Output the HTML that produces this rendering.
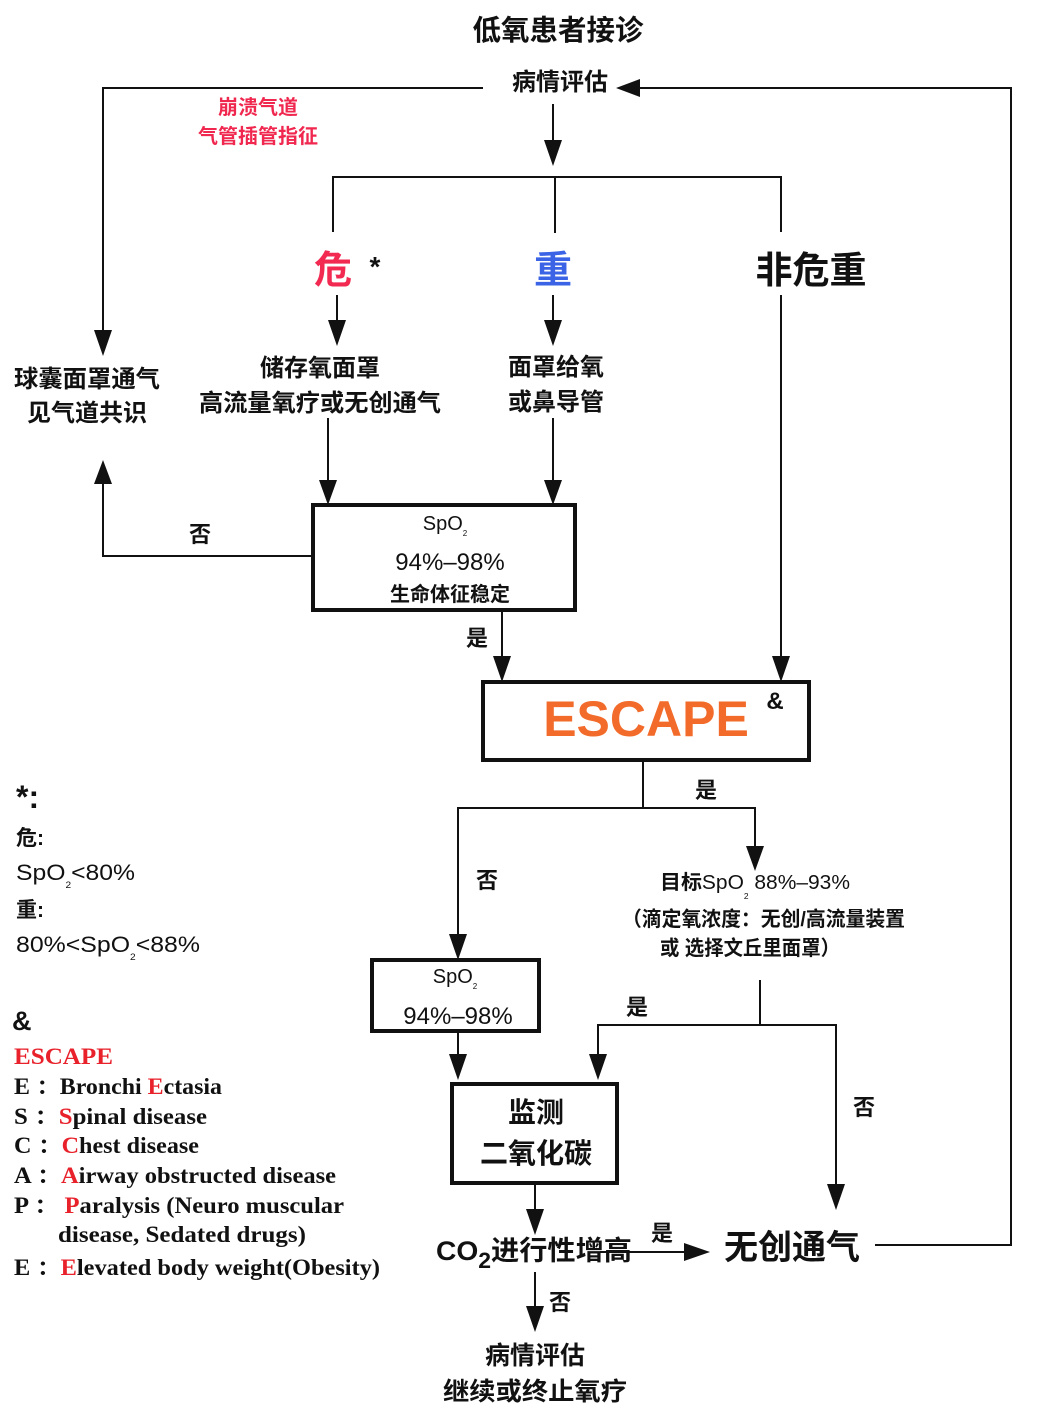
<!DOCTYPE html>
<html><head><meta charset="utf-8">
<style>
html,body{margin:0;padding:0;background:#fff;}
svg{display:block;}
.c{font-family:"Liberation Sans","Noto Sans CJK SC",sans-serif;font-weight:bold;fill:#111;}
.n{font-family:"Liberation Sans","Noto Sans CJK SC",sans-serif;font-weight:normal;fill:#111;}
.s{font-family:"Liberation Serif","Noto Serif CJK SC",serif;font-weight:bold;fill:#111;font-size:23px;}
.r{fill:#e8212b;}
</style></head>
<body>
<svg width="1044" height="1423" viewBox="0 0 1044 1423" xmlns="http://www.w3.org/2000/svg">
<g stroke="#111" stroke-width="2" fill="none">
  <polyline points="483,88 103,88 103,335"/>
  <polyline points="875,1245 1011,1245 1011,88 640,88"/>
  <line x1="553" y1="104" x2="553" y2="145"/>
  <polyline points="333,232 333,177 781,177 781,232"/>
  <line x1="555" y1="177" x2="555" y2="233"/>
  <line x1="337" y1="295" x2="337" y2="325"/>
  <line x1="553" y1="295" x2="553" y2="325"/>
  <line x1="781" y1="295" x2="781" y2="660"/>
  <line x1="328" y1="418" x2="328" y2="484"/>
  <line x1="553" y1="418" x2="553" y2="484"/>
  <polyline points="312,556 103,556 103,480"/>
  <line x1="502" y1="611" x2="502" y2="660"/>
  <line x1="643" y1="760" x2="643" y2="808"/>
  <polyline points="458,938 458,808 755,808 755,850"/>
  <line x1="458" y1="1032" x2="458" y2="1058"/>
  <line x1="760" y1="980" x2="760" y2="1025"/>
  <polyline points="598,1058 598,1025 836,1025 836,1188"/>
  <line x1="535" y1="1184" x2="535" y2="1213"/>
  <line x1="600" y1="1252" x2="688" y2="1252"/>
  <line x1="535" y1="1272" x2="535" y2="1310"/>
</g>
<g fill="#111">
  <polygon points="94,330 112,330 103,356"/>
  <polygon points="640,79 640,97 616,88"/>
  <polygon points="544,140 562,140 553,166"/>
  <polygon points="328,320 346,320 337,346"/>
  <polygon points="544,320 562,320 553,346"/>
  <polygon points="772,656 790,656 781,682"/>
  <polygon points="319,480 337,480 328,505"/>
  <polygon points="544,480 562,480 553,505"/>
  <polygon points="94,484 112,484 103,460"/>
  <polygon points="493,656 511,656 502,682"/>
  <polygon points="746,846 764,846 755,871"/>
  <polygon points="449,934 467,934 458,960"/>
  <polygon points="449,1054 467,1054 458,1080"/>
  <polygon points="589,1054 607,1054 598,1080"/>
  <polygon points="827,1184 845,1184 836,1210"/>
  <polygon points="526,1209 544,1209 535,1235"/>
  <polygon points="684,1243 684,1261 710,1252"/>
  <polygon points="526,1306 544,1306 535,1332"/>
</g>
<rect x="313" y="505" width="262" height="105" fill="none" stroke="#111" stroke-width="4"/>
<rect x="483" y="682" width="326" height="78" fill="none" stroke="#111" stroke-width="4"/>
<rect x="372" y="960" width="167" height="71" fill="none" stroke="#111" stroke-width="4"/>
<rect x="452" y="1084" width="165" height="99" fill="none" stroke="#111" stroke-width="4"/>

<text class="c" x="558" y="40" font-size="28.5" text-anchor="middle">低氧患者接诊</text>
<text class="c" x="560" y="90" font-size="24" text-anchor="middle">病情评估</text>
<text class="c" x="258" y="114" font-size="20" text-anchor="middle" style="fill:#f0284f">崩溃气道</text>
<text class="c" x="258" y="143" font-size="20" text-anchor="middle" style="fill:#f0284f">气管插管指征</text>
<text class="c" x="333" y="283" font-size="38" text-anchor="middle" style="fill:#f22a52">危</text>
<text class="c" x="375" y="276" font-size="28" text-anchor="middle">*</text>
<text class="c" x="553" y="283" font-size="38" text-anchor="middle" style="fill:#3a63e6">重</text>
<text class="c" x="811" y="283" font-size="37" text-anchor="middle">非危重</text>
<text class="c" x="320" y="376" font-size="24" text-anchor="middle">储存氧面罩</text>
<text class="c" x="320" y="411" font-size="24" text-anchor="middle" textLength="242" lengthAdjust="spacingAndGlyphs">高流量氧疗或无创通气</text>
<text class="c" x="556" y="375" font-size="24" text-anchor="middle">面罩给氧</text>
<text class="c" x="556" y="410" font-size="24" text-anchor="middle">或鼻导管</text>
<text class="c" x="87" y="387" font-size="24" text-anchor="middle" textLength="146" lengthAdjust="spacingAndGlyphs">球囊面罩通气</text>
<text class="c" x="87" y="421" font-size="24" text-anchor="middle">见气道共识</text>
<text class="n" x="445" y="530" font-size="20" text-anchor="middle">SpO<tspan font-size="8" dy="6">2</tspan></text>
<text class="n" x="450" y="570" font-size="24" text-anchor="middle">94%–98%</text>
<text class="c" x="450" y="601" font-size="20" text-anchor="middle">生命体征稳定</text>
<text class="c" x="200" y="542" font-size="22" text-anchor="middle">否</text>
<text class="c" x="477" y="646" font-size="22" text-anchor="middle">是</text>
<text class="c" x="646" y="736" font-size="50" text-anchor="middle" style="fill:#f26b2a">ESCAPE</text>
<text class="c" x="775" y="709" font-size="24" text-anchor="middle">&amp;</text>
<text class="c" x="706" y="798" font-size="22" text-anchor="middle">是</text>
<text class="c" x="487" y="888" font-size="22" text-anchor="middle">否</text>
<text class="n" x="660" y="889" font-size="20" textLength="190" lengthAdjust="spacingAndGlyphs"><tspan font-weight="bold">目标</tspan>SpO<tspan font-size="8" dy="10">2</tspan><tspan dy="-10"> 88%–93%</tspan></text>
<text class="c" x="622" y="926" font-size="20.5" textLength="283" lengthAdjust="spacingAndGlyphs">（滴定氧浓度：无创/高流量装置</text>
<text class="c" x="660" y="955" font-size="20.5" textLength="180" lengthAdjust="spacingAndGlyphs">或 选择文丘里面罩）</text>
<text class="n" x="455" y="983" font-size="20" text-anchor="middle">SpO<tspan font-size="8" dy="6">2</tspan></text>
<text class="n" x="458" y="1024" font-size="24" text-anchor="middle">94%–98%</text>
<text class="c" x="637" y="1015" font-size="22" text-anchor="middle">是</text>
<text class="c" x="864" y="1115" font-size="22" text-anchor="middle">否</text>
<text class="c" x="536" y="1122" font-size="28" text-anchor="middle">监测</text>
<text class="c" x="536" y="1163" font-size="28" text-anchor="middle">二氧化碳</text>
<text class="c" x="436" y="1260" font-size="27" textLength="196" lengthAdjust="spacingAndGlyphs">CO<tspan font-size="22" dy="8">2</tspan><tspan dy="-8">进行性增高</tspan></text>
<text class="c" x="662" y="1241" font-size="22" text-anchor="middle">是</text>
<text class="c" x="792" y="1259" font-size="34" text-anchor="middle">无创通气</text>
<text class="c" x="560" y="1310" font-size="22" text-anchor="middle">否</text>
<text class="c" x="535" y="1364" font-size="25" text-anchor="middle">病情评估</text>
<text class="c" x="535" y="1400" font-size="25" text-anchor="middle" textLength="184" lengthAdjust="spacingAndGlyphs">继续或终止氧疗</text>

<text class="c" x="16" y="808" font-size="32">*:</text>
<text class="c" x="16" y="845" font-size="21">危:</text>
<text class="n" x="16" y="880" font-size="22" textLength="119" lengthAdjust="spacingAndGlyphs">SpO<tspan font-size="9" dy="8">2</tspan><tspan dy="-8">&lt;80%</tspan></text>
<text class="c" x="16" y="917" font-size="21">重:</text>
<text class="n" x="16" y="952" font-size="22" textLength="184" lengthAdjust="spacingAndGlyphs">80%&lt;SpO<tspan font-size="9" dy="8">2</tspan><tspan dy="-8">&lt;88%</tspan></text>
<text class="c" x="12" y="1030" font-size="27">&amp;</text>
<text class="s r" x="14" y="1064" font-size="24" textLength="99" lengthAdjust="spacingAndGlyphs">ESCAPE</text>
<text class="s" x="14" y="1094" textLength="208" lengthAdjust="spacingAndGlyphs">E ：Bronchi <tspan class="r">E</tspan>ctasia</text>
<text class="s" x="14" y="1124" textLength="193" lengthAdjust="spacingAndGlyphs">S  ：<tspan class="r">S</tspan>pinal disease</text>
<text class="s" x="14" y="1153" textLength="185" lengthAdjust="spacingAndGlyphs">C ：<tspan class="r">C</tspan>hest disease</text>
<text class="s" x="14" y="1183" textLength="322" lengthAdjust="spacingAndGlyphs">A ：<tspan class="r">A</tspan>irway obstructed disease</text>
<text class="s" x="14" y="1213" textLength="330" lengthAdjust="spacingAndGlyphs">P ：  <tspan class="r">P</tspan>aralysis  (Neuro muscular</text>
<text class="s" x="58" y="1242" textLength="248" lengthAdjust="spacingAndGlyphs">disease, Sedated drugs)</text>
<text class="s" x="14" y="1275" textLength="366" lengthAdjust="spacingAndGlyphs">E ：<tspan class="r">E</tspan>levated body weight(Obesity)</text>
</svg>
</body></html>
